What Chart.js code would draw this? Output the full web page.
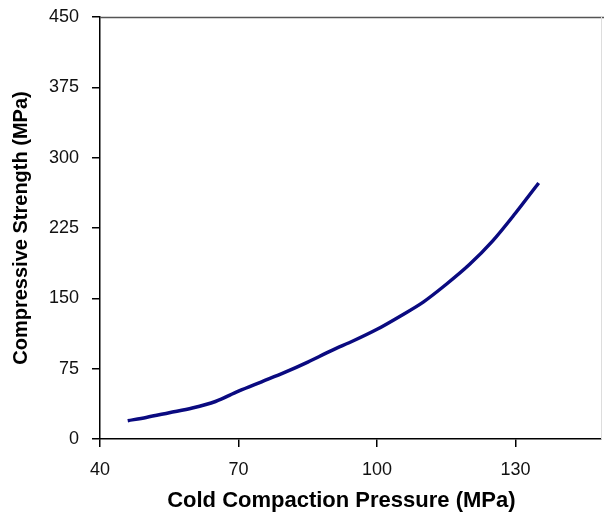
<!DOCTYPE html>
<html><head><meta charset="utf-8">
<script src="https://cdn.jsdelivr.net/npm/chart.js@4"></script>
<style>html,body{margin:0;padding:0;background:#fff}#wrap{width:604px;height:514px}</style>
</head><body><div id="wrap"><canvas id="c" width="604" height="514"></canvas></div>
<script>
const pressure = [46, 50, 55, 60, 65, 70, 75, 80, 85, 90, 95, 100, 105, 110, 115, 120, 125, 130, 135];
const strength = [19.5, 23, 28, 33, 40, 51, 61, 71, 82, 94, 105, 117, 131, 146, 165, 186, 211, 241, 273];
const xTicks = [40, 70, 100, 130];
const yTicks = [0, 75, 150, 225, 300, 375, 450];

const frame = {
  id: 'frame',
  afterDraw(ch) {
    const a = ch.chartArea, g = ch.ctx;
    g.save();
    g.strokeStyle = '#555'; g.lineWidth = 1.5;
    g.beginPath(); g.moveTo(a.left, a.top + 0.5); g.lineTo(604, a.top + 0.5); g.stroke();
    g.strokeStyle = '#ddd'; g.lineWidth = 1;
    g.beginPath(); g.moveTo(a.right + 0.5, a.top); g.lineTo(a.right + 0.5, a.bottom); g.stroke();
    g.restore();
  }
};

new Chart(document.getElementById('c'), {
  type: 'line',
  data: { datasets: [{
    data: pressure.map((x, i) => ({ x, y: strength[i] })),
    borderColor: '#0a0a80', borderWidth: 3.5, pointRadius: 0, tension: 0.4,
    cubicInterpolationMode: 'monotone', fill: false
  }]},
  options: {
    responsive: false, animation: false,
    layout: { padding: { top: 17, right: 3, left: 0, bottom: 0 } },
    plugins: { legend: { display: false }, tooltip: { enabled: false } },
    scales: {
      x: {
        type: 'linear', min: 40, max: 148.5,
        afterBuildTicks: s => { s.ticks = xTicks.map(v => ({ value: v })); },
        afterFit: s => { s.height = 75; s.paddingLeft = 0; s.paddingRight = 0; },
        border: { display: true, color: '#000', width: 1.5 },
        grid: { display: true, drawOnChartArea: false, drawTicks: true, tickLength: 8, color: '#000', lineWidth: 1.5 },
        ticks: { color: '#111', font: { family: 'Liberation Sans', size: 18 }, padding: 12, maxRotation: 0 },
        title: { display: true, text: 'Cold Compaction Pressure (MPa)   ', color: '#000',
          font: { family: 'Liberation Sans', size: 22, weight: 'bold' }, padding: { top: 4, bottom: 0 } }
      },
      y: {
        type: 'linear', min: 0, max: 450,
        afterBuildTicks: s => { s.ticks = yTicks.map(v => ({ value: v })); },
        afterFit: s => { s.width = 100; s.paddingTop = 0; s.paddingBottom = 0; },
        border: { display: true, color: '#000', width: 1.5 },
        grid: { display: true, drawOnChartArea: false, drawTicks: true, tickLength: 8, color: '#000', lineWidth: 1.5 },
        ticks: { color: '#111', font: { family: 'Liberation Sans', size: 18 }, padding: 13 },
        title: { display: true, text: 'Compressive Strength (MPa)', color: '#000',
          font: { family: 'Liberation Sans', size: 20, weight: 'bold' }, padding: { top: 9, bottom: 0 } }
      }
    }
  },
  plugins: [frame]
});
</script></body></html>
